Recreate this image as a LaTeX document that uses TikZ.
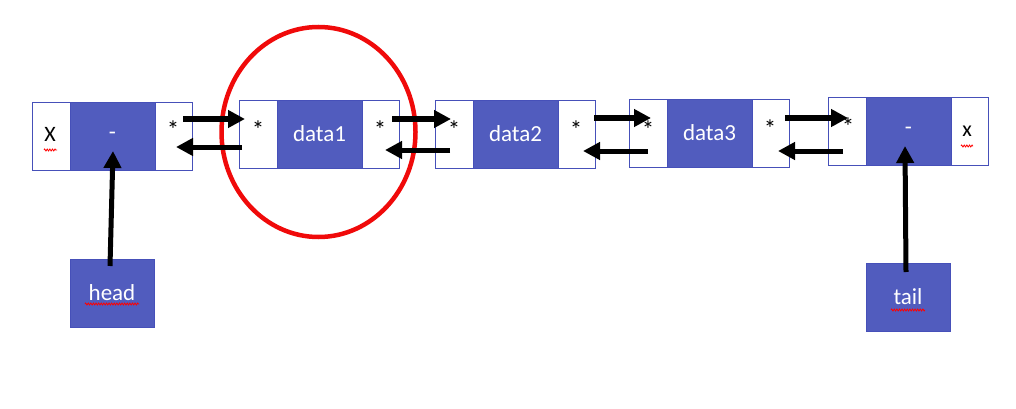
\documentclass[tikz,border=0pt]{standalone}
\usepackage{fontspec}
\setmainfont{Carlito}
\usetikzlibrary{arrows.meta,decorations.pathmorphing}
\definecolor{cellblue}{RGB}{81,92,190}
\definecolor{edgeblue}{RGB}{70,80,185}
\definecolor{ringred}{RGB}{240,10,10}
\tikzset{
  outerbox/.style={draw=edgeblue, line width=0.9pt, fill=white, minimum width=160pt, minimum height=68pt, inner sep=0pt, outer sep=0pt},
  datacell/.style={fill=cellblue, draw=edgeblue, line width=0.6pt, minimum width=85pt, minimum height=68pt, inner sep=0pt, outer sep=0pt, text=white, font=\fontsize{23}{26}\selectfont},
  ptr/.style={font=\fontsize{25}{26}\selectfont, inner sep=0pt, anchor=north},
  endmark/.style={font=\fontsize{22}{24}\selectfont, inner sep=0pt},
  labelbox/.style={fill=cellblue, draw=edgeblue, line width=0.6pt, minimum width=84pt, minimum height=68pt, inner sep=0pt, text=white, font=\fontsize{23}{26}\selectfont},
  link/.style={line width=5pt, -{Triangle[length=17pt,width=17pt]}},
  spell/.style={draw=red, line width=0.8pt, decorate, decoration={zigzag, segment length=2.6pt, amplitude=1pt}}
}
\begin{document}
\begin{tikzpicture}[x=1pt,y=-1pt]
\useasboundingbox (0,0) rectangle (1016,409);

% list nodes: outer frame with the data cell in the middle
\node[outerbox] (n1) at (112,136) {};
\node[datacell] (d1) at (112.5,136) {-};
\node[outerbox] (n2) at (319.5,134) {};
\node[datacell] (d2) at (319.5,134) {data1};
\node[outerbox] (n3) at (515,134) {};
\node[datacell] (d3) at (515.5,134) {data2};
\node[outerbox] (n4) at (709,133) {};
\node[datacell] (d4) at (709.5,133) {data3};
\node[outerbox] (n5) at (908,131) {};
\node[datacell] (d5) at (908.5,131) {-};

% pointer fields (asterisks hang from their top edge)
\node[endmark] (x1) at (50,134) {X};
\node[ptr] (p1r) at (173,121) {*};
\node[ptr] (p2l) at (258,121) {*};
\node[ptr] (p2r) at (380,121) {*};
\node[ptr] (p3l) at (454,121) {*};
\node[ptr] (p3r) at (576,121) {*};
\node[ptr] (p4l) at (648,121) {*};
\node[ptr] (p4r) at (770,120) {*};
\node[ptr] (p5l) at (848,118) {*};
\node[endmark] (x5) at (967,131) {x};

% head and tail labels
\node[labelbox] (head) at (112,293) {head};
\node[labelbox] (tail) at (908,297) {tail};

% spell-check marks
\draw[spell] (44,150) -- (57,150);
\draw[spell] (961,146) -- (973,146);
\draw[spell] (85,304) -- (139,304);
\draw[spell] (891,310) -- (925,310);

% highlight ring around the first data node
\draw[ringred, line width=4.5pt] (d2.center) ++(-1,-2) ellipse [x radius=97pt, y radius=105pt];

% link ends
\coordinate (a1s) at (183,119); \coordinate (a1e) at (245,119);
\coordinate (b1s) at (242,147); \coordinate (b1e) at (176,147);
\coordinate (a2s) at (392,119); \coordinate (a2e) at (451,119);
\coordinate (b2s) at (450,150); \coordinate (b2e) at (385,150);
\coordinate (a3s) at (594,118); \coordinate (a3e) at (651,118);
\coordinate (b3s) at (648,151); \coordinate (b3e) at (583,151);
\coordinate (a4s) at (785,118); \coordinate (a4e) at (848,118);
\coordinate (b4s) at (843,151); \coordinate (b4e) at (778,151);
\coordinate (hs) at (110,266); \coordinate (he) at (113,151);
\coordinate (ts) at (906,272); \coordinate (te) at (905,146);

% next / prev links
\draw[link] (a1s) -- (a1e);
\draw[link] (b1s) -- (b1e);
\draw[link] (a2s) -- (a2e);
\draw[link] (b2s) -- (b2e);
\draw[link] (a3s) -- (a3e);
\draw[link] (b3s) -- (b3e);
\draw[link] (a4s) -- (a4e);
\draw[link] (b4s) -- (b4e);

% head / tail pointers
\draw[link] (hs) -- (he);
\draw[link] (ts) -- (te);
\end{tikzpicture}
\end{document}
